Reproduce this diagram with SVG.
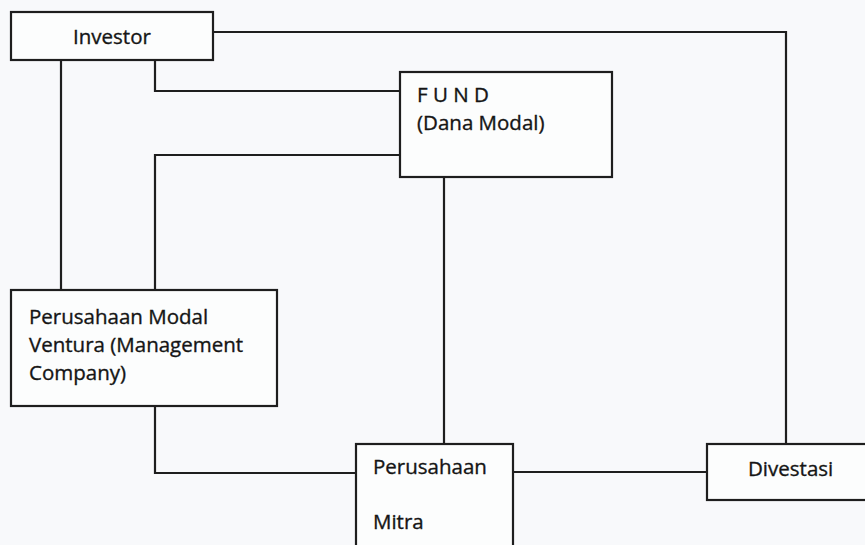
<svg xmlns="http://www.w3.org/2000/svg" width="865" height="545" viewBox="0 0 865 545">
  <style>
    .bg { fill: #f8f9fb; }
    .box { fill: #ffffff; fill-opacity: 0.6; stroke: #1e1e1e; stroke-width: 2.2; }
    .conn { fill: none; stroke: #1e1e1e; stroke-width: 2.2; }
    .lbl { font-family: "Open Sans", "Liberation Sans", sans-serif; font-size: 20.5px; fill: #151515; stroke: #151515; stroke-width: 0.35; }
  </style>
  <rect class="bg" x="0" y="0" width="865" height="545"/>
  <g id="connectors">
    <polyline class="conn" points="213,32 786,32 786,444"/>
    <polyline class="conn" points="155,60 155,91 400,91"/>
    <polyline class="conn" points="61,60 61,290"/>
    <polyline class="conn" points="400,155 155,155 155,290"/>
    <polyline class="conn" points="444,177 444,444"/>
    <polyline class="conn" points="155,406 155,473 356,473"/>
    <polyline class="conn" points="513,472 707,472"/>
  </g>
  <g id="investor">
    <rect class="box" x="11" y="12" width="202" height="48"/>
    <text class="lbl" x="73" y="44">Investor</text>
  </g>
  <g id="fund">
    <rect class="box" x="400" y="72" width="212" height="105"/>
    <text class="lbl" x="417" y="102">F U N D</text>
    <text class="lbl" x="417" y="130">(Dana Modal)</text>
  </g>
  <g id="perusahaan-modal-ventura">
    <rect class="box" x="11" y="290" width="266" height="116"/>
    <text class="lbl" x="29" y="324">Perusahaan Modal</text>
    <text class="lbl" x="29" y="352">Ventura (Management</text>
    <text class="lbl" x="29" y="380">Company)</text>
  </g>
  <g id="perusahaan-mitra">
    <rect class="box" x="356" y="444" width="157" height="120"/>
    <text class="lbl" x="373" y="474">Perusahaan</text>
    <text class="lbl" x="373" y="529">Mitra</text>
  </g>
  <g id="divestasi">
    <rect class="box" x="707" y="444" width="175" height="56"/>
    <text class="lbl" x="748" y="476">Divestasi</text>
  </g>
</svg>
